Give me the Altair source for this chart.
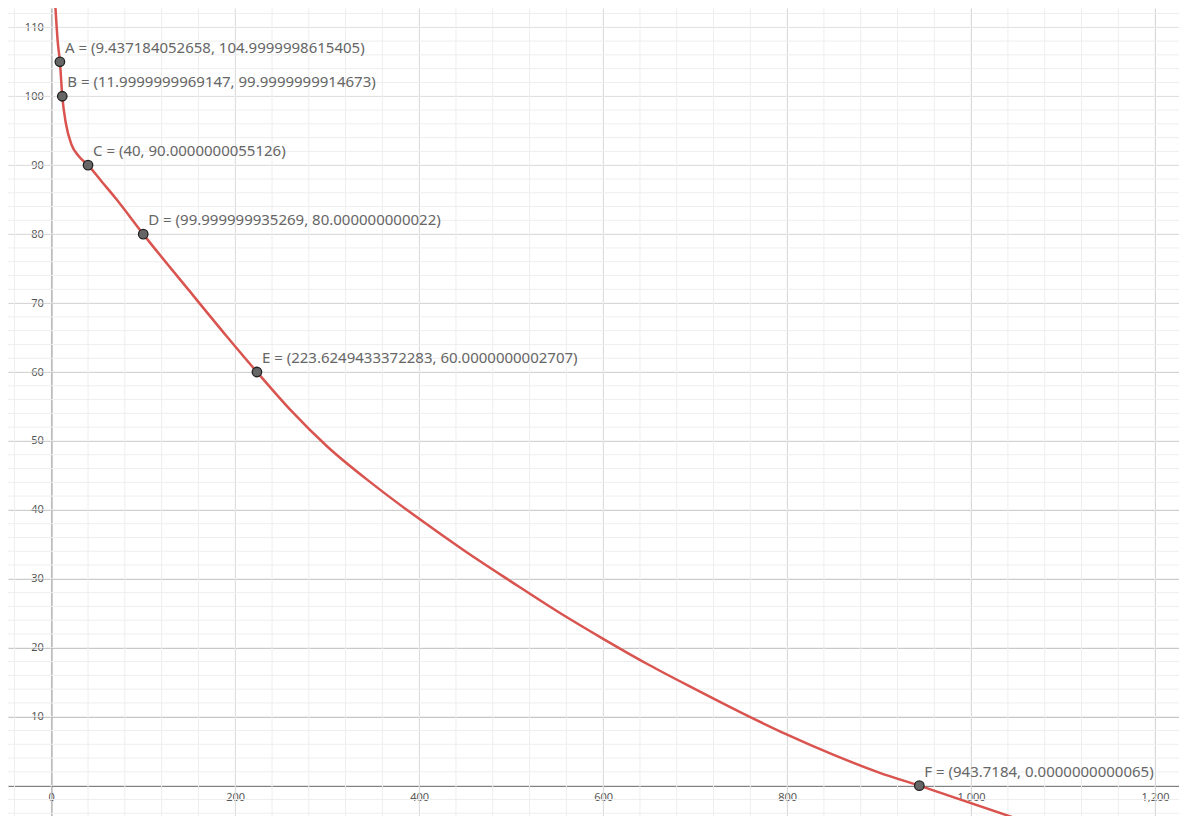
import altair as alt
import pandas as pd

curve_x = [4.5, 7, 9.437, 12, 16, 22, 30, 40, 55, 70, 100, 150, 190, 223.625, 260, 300, 350, 400, 450, 500, 550, 600, 650, 700, 750, 800, 850, 900, 943.718, 1050]
curve_y = [113, 108, 105, 100, 96, 93, 91.3, 90, 87.6, 85.2, 80, 71.8, 65.3, 60, 54.5, 49.2, 43.7, 38.7, 34.0, 29.6, 25.3, 21.3, 17.5, 14.0, 10.6, 7.4, 4.5, 1.9, 0, -4.8]

pt_names = ["A", "B", "C", "D", "E", "F"]
pt_x = [9.437184052658, 11.9999999969147, 40, 99.999999935269, 223.6249433372283, 943.7184]
pt_y = [104.9999998615405, 99.9999999914673, 90.0000000055126, 80.000000000022, 60.0000000002707, 0.0000000000065]
pt_labels = ["A = (9.437184052658, 104.9999998615405)", "B = (11.9999999969147, 99.9999999914673)",
             "C = (40, 90.0000000055126)", "D = (99.999999935269, 80.000000000022)",
             "E = (223.6249433372283, 60.0000000002707)", "F = (943.7184, 0.0000000000065)"]

minor_x = [v for v in range(-40, 1241, 40)]
minor_y = [v for v in range(-4, 113, 2)]

W, H = 1171, 808
xd = [-47, 1226]
yd = [-4.4, 112.8]
xs = alt.Scale(domain=xd, nice=False, zero=False)
ys = alt.Scale(domain=yd, nice=False, zero=False)

x_off = -(0 - xd[0]) / (xd[1] - xd[0]) * W
y_off = -(0 - yd[0]) / (yd[1] - yd[0]) * H

xaxis = alt.Axis(values=list(range(0, 1201, 200)), offset=y_off, grid=True, gridColor="#bbbbbb",
                 domainColor="#222", ticks=False, labelColor="#555", labelFontSize=11,
                 labelFont="Noto Sans", labelPadding=6, title=None)
yaxis = alt.Axis(values=list(range(10, 111, 10)), offset=x_off, grid=True, gridColor="#bbbbbb",
                 domainColor="#222", ticks=False, labelColor="#555", labelFontSize=11,
                 labelFont="Noto Sans", labelPadding=8, title=None)

curve = pd.DataFrame({"x": curve_x, "y": curve_y})
pts = pd.DataFrame({"x": pt_x, "y": pt_y, "label": pt_labels})

mx = alt.Chart(pd.DataFrame({"x": minor_x})).mark_rule(color="#eeeeee", strokeWidth=1).encode(
    x=alt.X("x:Q", scale=xs, axis=xaxis))
my = alt.Chart(pd.DataFrame({"y": minor_y})).mark_rule(color="#eeeeee", strokeWidth=1).encode(
    y=alt.Y("y:Q", scale=ys, axis=yaxis))

line = alt.Chart(curve).mark_line(color="#d9534f", strokeWidth=2.5, clip=True, interpolate="monotone").encode(
    x=alt.X("x:Q", scale=xs, axis=xaxis),
    y=alt.Y("y:Q", scale=ys, axis=yaxis),
    order=alt.Order("x:Q"))

dots = alt.Chart(pts).mark_point(filled=True, size=90, fill="#666666", stroke="#222222",
                                  strokeWidth=1.3, opacity=1).encode(
    x=alt.X("x:Q", scale=xs, axis=xaxis), y=alt.Y("y:Q", scale=ys, axis=yaxis))
labels = alt.Chart(pts).mark_text(align="left", baseline="bottom", dx=5, dy=-6, fontSize=15,
                                   font="Noto Sans", color="#666666").encode(
    x=alt.X("x:Q", scale=xs, axis=xaxis), y=alt.Y("y:Q", scale=ys, axis=yaxis), text="label:N")

chart = alt.layer(mx, my, line, dots, labels).properties(
    width=W, height=H, padding=0, autosize=alt.AutoSizeParams(type="none")
).configure_view(stroke=None)

chart.save("out.html", embed_options={"renderer": "svg", "actions": False})
